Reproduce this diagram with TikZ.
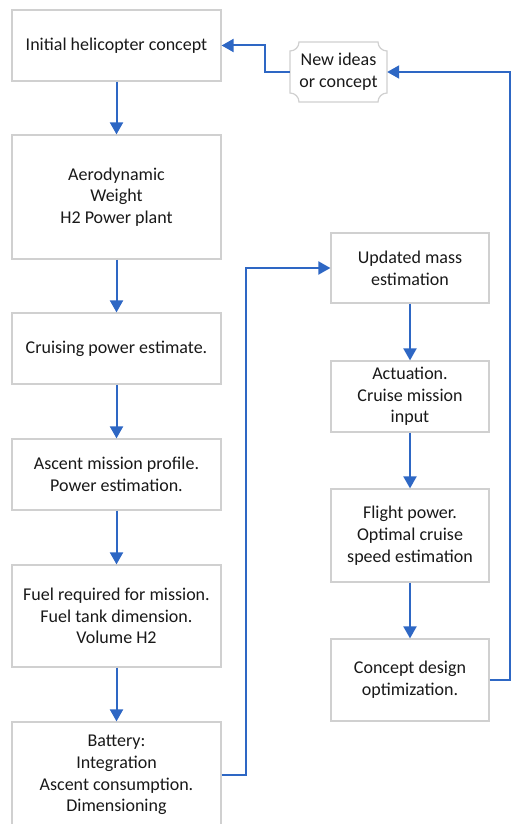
\documentclass[tikz,border=0pt]{standalone}
\usepackage{fontspec}
\setmainfont{Carlito}
\usetikzlibrary{arrows.meta}
\definecolor{flowblue}{RGB}{46,103,196}
\definecolor{boxgray}{RGB}{208,208,208}
\definecolor{txt}{RGB}{25,25,25}
\begin{document}
\begin{tikzpicture}[x=1pt,y=-1pt,
  box/.style={draw=boxgray, line width=1.2pt, fill=white, align=center, text=txt,
    font=\fontsize{18}{21.7}\selectfont, inner sep=0pt},
  lbox/.style={box, minimum width=209pt},
  rbox/.style={box, minimum width=158pt},
  arr/.style={draw=flowblue, line width=2pt, -{Triangle[length=12pt,width=13pt]}},
  plq/.style={draw=boxgray, line width=1.2pt, fill=white}]
\useasboundingbox (0,0) rectangle (511,824);
\clip (0,0) rectangle (511,824);
% left column
\node[lbox, minimum height=71pt] (b1) at (116.5,45.5) {Initial helicopter concept};
\node[lbox, minimum height=124pt] (b2) at (116.5,197) {Aerodynamic\\Weight\\H2 Power plant};
\node[lbox, minimum height=71pt] (b3) at (116.5,348.5) {Cruising power estimate.};
\node[lbox, minimum height=71pt] (b4) at (116.5,474.5) {Ascent mission profile.\\Power estimation.};
\node[lbox, minimum height=102pt] (b5) at (116.5,616) {Fuel required for mission.\\Fuel tank dimension.\\Volume H2};
\node[lbox, minimum height=106pt] (b6) at (116.5,775) {Battery:\\Integration\\Ascent consumption.\\Dimensioning};
% right column
\node[rbox, minimum height=70pt] (r1) at (410,268) {Updated mass\\estimation};
\node[rbox, minimum height=71pt] (r2) at (410,396.5) {Actuation.\\Cruise mission\\input};
\node[rbox, minimum height=93pt] (r3) at (410,535.5) {Flight power.\\Optimal cruise\\speed estimation};
\node[rbox, minimum height=82pt] (r4) at (410,680) {Concept design\\optimization.};
% plaque
\draw[plq] (299,42) -- (378,42)
  .. controls (378,47) and (382,51) .. (387,51) -- (387,93)
  .. controls (382,93) and (378,97) .. (378,102) -- (299,102)
  .. controls (299,97) and (295,93) .. (290,93) -- (290,51)
  .. controls (295,51) and (299,47) .. (299,42) -- cycle;
\node[align=center, text=txt, font=\fontsize{18}{21.7}\selectfont, inner sep=0pt,
  minimum width=97pt, minimum height=60pt] (new) at (338.5,72) {New ideas\\or concept};
% connectors
\draw[arr] (b1) -- (b2);
\draw[arr] (b2) -- (b3);
\draw[arr] (b3) -- (b4);
\draw[arr] (b4) -- (b5);
\draw[arr] (b5) -- (b6);
\draw[arr] (r1) -- (r2);
\draw[arr] (r2) -- (r3);
\draw[arr] (r3) -- (r4);
\coordinate (j1) at (246,268);
\draw[arr] (b6.east) -| (j1) -- (r1.west);
\coordinate (j2) at (510,72);
\draw[arr] (r4.east) -| (j2) -- (new.east);
\coordinate (j3) at (265,72);
\draw[arr] (new.west) -- (j3) |- (b1.east);
\end{tikzpicture}
\end{document}
